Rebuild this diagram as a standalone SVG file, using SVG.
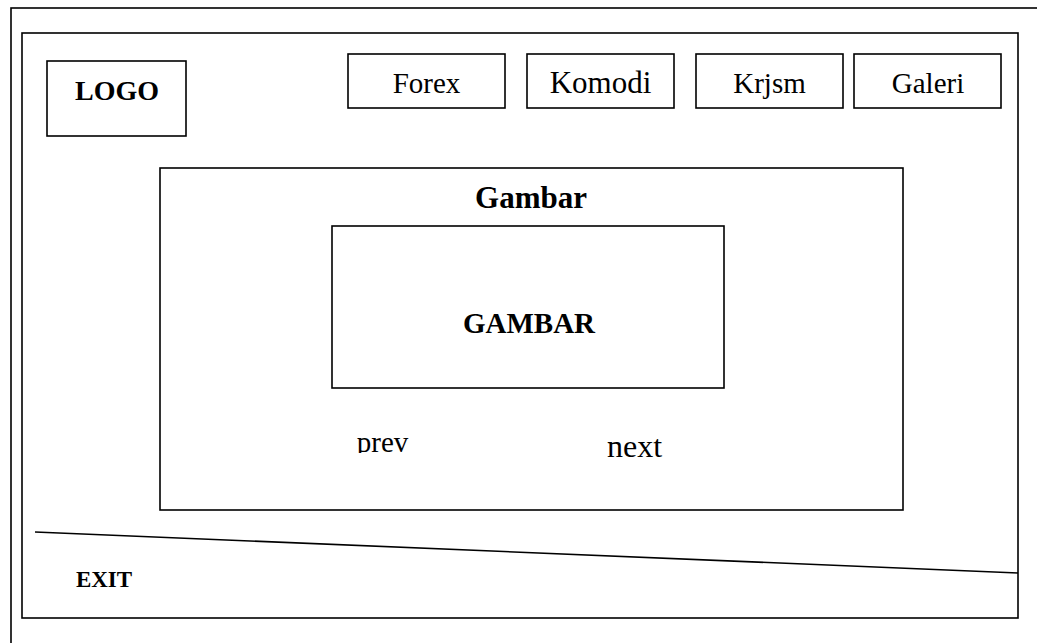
<svg xmlns="http://www.w3.org/2000/svg" width="1037" height="643" viewBox="0 0 1037 643">
<style>
.box{fill:none;stroke:#000;stroke-width:1.6}
.t{font-family:"Liberation Serif","Times New Roman",serif;fill:#000;text-anchor:middle}
.b{font-weight:bold}
</style>
<defs><clipPath id="prevclip"><rect x="340" y="420" width="100" height="33"/></clipPath></defs>
<rect width="1037" height="643" fill="#fff"/>
<g id="frame">
<rect class="box" x="11" y="8" width="1040" height="650"/>
<rect class="box" x="22" y="33" width="996" height="585"/>
</g>
<g id="logo"><rect class="box" x="47" y="61" width="139" height="75"/><text class="t b" x="117" y="100" font-size="28">LOGO</text></g>
<g id="forex"><rect class="box" x="348" y="54" width="157" height="54"/><text class="t" x="426.5" y="93" font-size="29">Forex</text></g>
<g id="komodi"><rect class="box" x="527" y="54" width="147" height="54"/><text class="t" x="600.5" y="93" font-size="31">Komodi</text></g>
<g id="krjsm"><rect class="box" x="696" y="54" width="147" height="54"/><text class="t" x="769.5" y="93" font-size="29">Krjsm</text></g>
<g id="galeri"><rect class="box" x="854" y="54" width="147" height="54"/><text class="t" x="928" y="93" font-size="29">Galeri</text></g>
<g id="gambar-panel"><rect class="box" x="160" y="168" width="743" height="342"/><text class="t b" x="531" y="208" font-size="31">Gambar</text></g>
<g id="gambar-image"><rect class="box" x="332" y="226" width="392" height="162"/><text class="t b" x="529" y="333" font-size="29">GAMBAR</text></g>
<g id="prev"><text class="t" x="382.5" y="452" font-size="29" clip-path="url(#prevclip)">prev</text></g>
<g id="next"><text class="t" x="634.5" y="457" font-size="32">next</text></g>
<g id="connectors"><line x1="35" y1="532" x2="1018" y2="573" stroke="#000" stroke-width="1.6"/></g>
<g id="exit"><text class="t b" x="104" y="587" font-size="23">EXIT</text></g>
</svg>
